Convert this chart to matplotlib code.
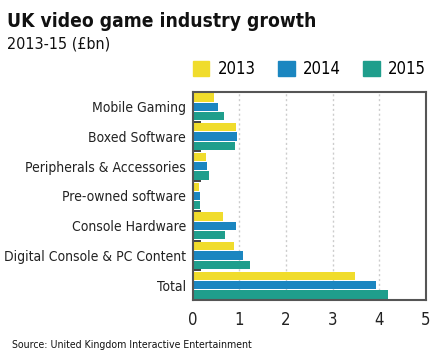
import numpy as np
import matplotlib
matplotlib.use("Agg")
import matplotlib.pyplot as plt
from matplotlib.patches import Patch

plt.rcParams['font.family'] = ['DejaVu Sans']
plt.rcParams['font.stretch'] = 'condensed'

categories = ["Mobile Gaming", "Boxed Software", "Peripherals & Accessories",
              "Pre-owned software", "Console Hardware",
              "Digital Console & PC Content", "Total"]
years = ["2013", "2014", "2015"]
v2013 = [0.46, 0.93, 0.28, 0.13, 0.64, 0.89, 3.48]
v2014 = [0.55, 0.94, 0.30, 0.15, 0.92, 1.08, 3.94]
v2015 = [0.67, 0.91, 0.36, 0.16, 0.69, 1.23, 4.18]
colors = ["#f0dc2c", "#1b86c0", "#1f9e8c"]

fig = plt.figure(figsize=(4.35, 3.56), dpi=100)
ax = fig.add_axes([0.443, 0.157, 0.536, 0.585])

y = np.arange(len(categories))
h = 0.28
step = 0.31
for k, (vals, c, yr) in enumerate(zip([v2013, v2014, v2015], colors, years)):
    ax.barh(y + (k - 1) * step, vals, height=h, color=c, label=yr, zorder=2)

ax.set_ylim(len(categories) - 0.5, -0.5)
ax.set_xlim(0, 5)
ax.set_xticks(range(6))
ax.tick_params(axis='x', length=0, pad=8, labelsize=12, colors='#222222')

# small group separators on the left spine, labels at group centres
ax.set_yticks(np.arange(len(categories) - 1) + 0.5)
ax.set_yticklabels([])
ax.tick_params(axis='y', which='major', direction='in', length=6, width=1.3, color='#333333')
ax.set_yticks(y, minor=True)
ax.set_yticklabels(categories, minor=True)
ax.tick_params(axis='y', which='minor', length=0, pad=5, labelsize=10, colors='#222222')

ax.grid(axis='x', color='#cccccc', linestyle=(0, (1.5, 2)), linewidth=1, zorder=0)
for s in ax.spines.values():
    s.set_color('#555555')
    s.set_linewidth(1.5)

handles = [Patch(color=c, label=yr) for c, yr in zip(colors, years)]
ax.legend(handles=handles, loc='lower left', bbox_to_anchor=(0, 1.065, 1, 0.1),
          mode='expand', ncol=3, frameon=False, handlelength=1.0, handleheight=1.0,
          handletextpad=0.5, fontsize=12, borderaxespad=0, borderpad=0)

fig.text(0.016, 0.925, "UK video game industry growth", fontsize=13.8, fontweight='bold',
         color='#111111')
fig.text(0.016, 0.865, "2013-15 (£bn)", fontsize=11.5, color='#111111')
fig.text(0.028, 0.022, "Source: United Kingdom Interactive Entertainment", fontsize=7.6,
         color='#111111')

fig.savefig("out.png", dpi=100)
